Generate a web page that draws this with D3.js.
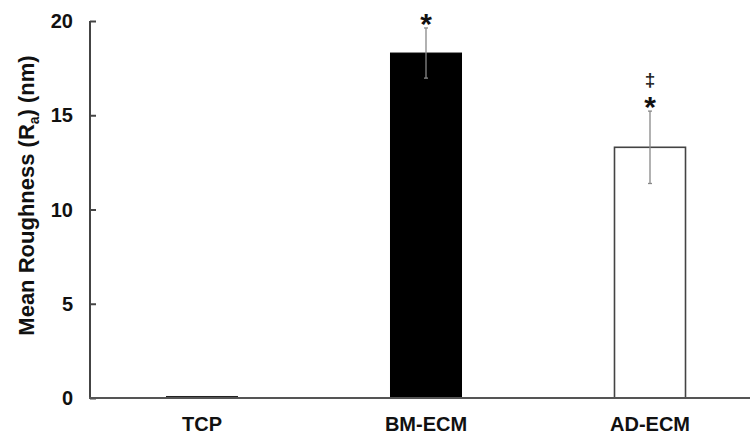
<!DOCTYPE html>
<html>
<head>
<meta charset="utf-8">
<script src="https://cdn.jsdelivr.net/npm/d3@7/dist/d3.min.js"></script>
<style>
  html, body { margin: 0; padding: 0; background: #fff; }
  svg { display: block; font-family: "Liberation Sans", Arial, sans-serif; }
</style>
</head>
<body>
<svg id="chart" width="750" height="439"></svg>
<script>
const categories = ["TCP", "BM-ECM", "AD-ECM"];
const means = [0.08, 18.3, 13.3];
const errors = [0, 1.33, 1.92];
const fills = ["#111", "#000", "#fff"];
const markers = [[], ["*"], ["*", "‡"]];
const yTicks = [0, 5, 10, 15, 20];

const svg = d3.select("#chart");
const m = { left: 90, right: 762, top: 21, bottom: 398 };

const x = d3.scaleBand().domain(categories).range([m.left, m.right])
  .paddingInner(0.683).paddingOuter(0.3415);
const y = d3.scaleLinear().domain([0, 20]).range([m.bottom, m.top]);

// bars
svg.selectAll("rect.bar").data(categories).join("rect")
  .attr("class", "bar")
  .attr("x", d => x(d))
  .attr("width", x.bandwidth())
  .attr("y", (d, i) => y(means[i]))
  .attr("height", (d, i) => y(0) - y(means[i]))
  .attr("fill", (d, i) => fills[i])
  .attr("stroke", (d, i) => i === 2 ? "#444" : (i === 0 ? "#222" : "#000"))
  .attr("stroke-width", (d, i) => i === 2 ? 1.6 : 1);

// error bars
const eb = svg.append("g").attr("stroke", "#888").attr("stroke-width", 1.3);
categories.forEach((c, i) => {
  if (!errors[i]) return;
  const cx = x(c) + x.bandwidth() / 2;
  eb.append("line").attr("x1", cx).attr("x2", cx)
    .attr("y1", y(means[i] - errors[i])).attr("y2", y(means[i] + errors[i]));
  [means[i] - errors[i], means[i] + errors[i]].forEach(v => {
    eb.append("line").attr("x1", cx - 2).attr("x2", cx + 2)
      .attr("y1", y(v)).attr("y2", y(v));
  });
});

// significance markers
categories.forEach((c, i) => {
  const cx = x(c) + x.bandwidth() / 2;
  const top = y(means[i] + errors[i]);
  markers[i].forEach(mk => {
    if (mk === "*") {
      svg.append("text").attr("x", cx).attr("y", top + 6)
        .attr("text-anchor", "middle").attr("font-size", 30).attr("font-weight", "bold")
        .attr("fill", "#111").text(mk);
    } else {
      svg.append("text").attr("x", cx).attr("y", top - 25)
        .attr("text-anchor", "middle").attr("font-size", 19).attr("font-weight", "bold")
        .attr("fill", "#222").text(mk);
    }
  });
});

// y axis
const yAxis = d3.axisRight(y).tickValues(yTicks).tickSize(6).tickFormat("");
const gy = svg.append("g").attr("transform", `translate(${m.left},0)`).call(yAxis);
gy.select(".domain").attr("stroke", "#444").attr("stroke-width", 2).attr("d", `M0,${m.top}V${m.bottom}`);
gy.selectAll(".tick line").attr("stroke", "#444").attr("stroke-width", 2);

svg.append("g").selectAll("text").data(yTicks).join("text")
  .attr("x", 73).attr("y", d => y(d)).attr("dy", "0.35em")
  .attr("text-anchor", "end").attr("font-size", 20).attr("font-weight", "bold")
  .attr("fill", "#111").text(d => d);

// x axis
const xAxis = d3.axisBottom(x).tickSize(0).tickFormat("");
const gx = svg.append("g").attr("transform", `translate(0,${m.bottom})`).call(xAxis);
gx.select(".domain").attr("stroke", "#555").attr("stroke-width", 2).attr("d", `M${m.left - 1},0H750`);

svg.append("g").selectAll("text").data(categories).join("text")
  .attr("x", d => x(d) + x.bandwidth() / 2).attr("y", 431)
  .attr("text-anchor", "middle").attr("font-size", 20).attr("font-weight", "bold")
  .attr("fill", "#111").text(d => d);

// y label
const yl = svg.append("text")
  .attr("transform", "translate(34,195.5) rotate(-90)")
  .attr("text-anchor", "middle").attr("font-size", 22).attr("font-weight", "bold")
  .attr("fill", "#111");
yl.append("tspan").text("Mean Roughness (R");
yl.append("tspan").attr("font-size", 14).attr("dy", 5).text("a");
yl.append("tspan").attr("dy", -5).text(") (nm)");
</script>
</body>
</html>
